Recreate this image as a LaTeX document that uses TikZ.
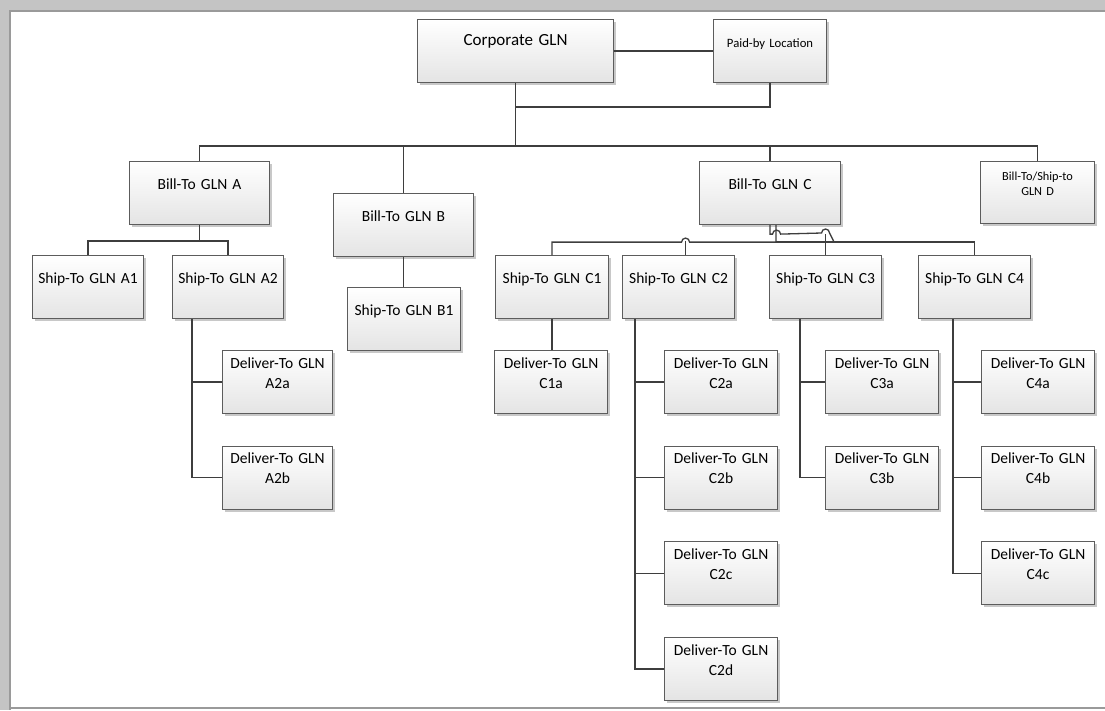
\documentclass[tikz,border=0pt]{standalone}
\usepackage{fontspec}
\setmainfont{Carlito}
\usepackage{xcolor}
\usepackage{tikz}
\usetikzlibrary{positioning, shadows}
\definecolor{boxline}{HTML}{5C5C5C}
\definecolor{boxfill}{HTML}{E4E4E4}
\definecolor{wire}{HTML}{3E3E3E}
\definecolor{frameband}{HTML}{C4C4C4}
\definecolor{frameedge}{HTML}{9A9A9A}
\tikzstyle{glnbox} = [rectangle, anchor=north west, draw=boxline, line width=1.1pt, top color=white, bottom color=boxfill, drop shadow={shadow xshift=2.5pt, shadow yshift=-2.5pt, opacity=0.3, fill=black!70}, inner sep=0pt, align=center, text width=112pt, font=\fontsize{15.5}{20}\selectfont]
\tikzstyle{single} = [glnbox, text height=27.5pt, text depth=35.5pt]
\tikzstyle{deliver} = [glnbox, text height=17.7pt, text depth=45.3pt]
\tikzstyle{conn} = [draw=wire, line width=1.3pt]

\begin{document}
\begin{tikzpicture}[x=1pt, y=-1pt, node distance=31.5pt]
    \useasboundingbox (0,0) rectangle (1105,710);
    % frame of the screenshot
    \fill [frameband] (0,0) rectangle (1105,11);
    \fill [frameband] (0,0) rectangle (10,710);
    \fill [white] (10,11) rectangle (1105,707);
    \draw [frameedge, line width=1.2pt] (1105,11) -- (10,11) -- (10,710);
    \draw [frameedge, line width=1.5pt] (10,708) -- (1105,708);

    % top level
    \node (corp) [single, text width=196pt, text height=26pt, text depth=37pt, font=\fontsize{17}{20}\selectfont] at (417,19) {Corporate GLN};
    \node (paid) [single, text width=113pt, text height=28pt, text depth=35pt, font=\fontsize{12.7}{15}\selectfont] at (713,19) {Paid-by Location};

    % bill-to level
    \node (billA) [single, text width=140pt] at (129,161) {Bill-To GLN A};
    \node (billB) [single, text width=140pt] at (333,193) {Bill-To GLN B};
    \node (billC) [single, text width=141pt] at (699,161) {Bill-To GLN C};
    \node (billD) [glnbox, text width=114pt, text height=19pt, text depth=43pt, font=\fontsize{12.3}{15}\selectfont] at (980,161) {Bill-To/Ship-to\\GLN D};

    % ship-to level
    \node (shipA1) [single, text width=111pt] at (32,255) {Ship-To GLN A1};
    \node (shipA2) [single, text width=111pt] at (172,255) {Ship-To GLN A2};
    \node (shipB1) [single, text width=113pt] at (347,287) {Ship-To GLN B1};
    \node (shipC1) [single, text width=113pt] at (495,255) {Ship-To GLN C1};
    \node (shipC2) [single] at (622,255) {Ship-To GLN C2};
    \node (shipC3) [single] at (769,255) {Ship-To GLN C3};
    \node (shipC4) [single] at (918,255) {Ship-To GLN C4};

    % deliver-to level
    \node (delA2a) [deliver, text width=110pt] at (222,350) {Deliver-To GLN\\A2a};
    \node (delA2b) [deliver, text width=110pt, below=of delA2a] {Deliver-To GLN\\A2b};
    \node (delC1a) [deliver, text width=113pt] at (494,350) {Deliver-To GLN\\C1a};
    \node (delC2a) [deliver, text width=113pt] at (664,350) {Deliver-To GLN\\C2a};
    \node (delC2b) [deliver, text width=113pt, below=of delC2a] {Deliver-To GLN\\C2b};
    \node (delC2c) [deliver, text width=113pt, below=of delC2b] {Deliver-To GLN\\C2c};
    \node (delC2d) [deliver, text width=113pt, below=of delC2c] {Deliver-To GLN\\C2d};
    \node (delC3a) [deliver, text width=113pt] at (825,350) {Deliver-To GLN\\C3a};
    \node (delC3b) [deliver, text width=113pt, below=of delC3a] {Deliver-To GLN\\C3b};
    \node (delC4a) [deliver, text width=113pt] at (981,350) {Deliver-To GLN\\C4a};
    \node (delC4b) [deliver, text width=113pt, below=of delC4a] {Deliver-To GLN\\C4b};
    \node (delC4c) [deliver, text width=113pt, below=of delC4b] {Deliver-To GLN\\C4c};

    % corporate connectors
    \coordinate (join) at ([yshift=-24pt]corp.south);
    \coordinate (bus) at ([yshift=-63pt]corp.south);
    \draw [conn] (corp.east) -- (paid.west);
    \draw [conn] (paid.south) |- (join);
    \draw [conn] (corp.south) -- (bus);
    \draw [conn] (bus) -| (billA.north);
    \draw [conn] (bus) -| (billB.north);
    \draw [conn] (bus) -| (billC.north);
    \draw [conn] (bus) -| (billD.north);

    % A and B
    \draw [conn] (billA.south) -- ++(0,16) -| (shipA1.north);
    \draw [conn] (billA.south) -- ++(0,16) -| (shipA2.north);
    \draw [conn] (billB.south) -- (billB.south |- shipB1.north);
    \coordinate (trunkA2) at ([xshift=20pt]shipA2.south west);
    \draw [conn] (trunkA2) |- (delA2a.west);
    \draw [conn] (trunkA2) |- (delA2b.west);

    % C with line hops
    \coordinate (cbus) at ([xshift=6pt, yshift=-17pt]billC.south);
    \draw [conn] ([xshift=6pt]billC.south) -- (cbus) -- ([xshift=11pt]shipC2.north |- cbus)
        arc[start angle=0, end angle=180, radius=4pt] -- (shipC1.north |- cbus) -- (shipC1.north);
    \draw [conn] ([xshift=7pt]shipC2.north) -- ++(0,-14);
    \draw [conn] (cbus) -- (shipC4.north |- cbus) -- (shipC4.north);
    \draw [conn] (billC.south) -- ++(0,9) -- ++(2.5,0) arc[start angle=180, end angle=0, radius=4pt]
        -- ([xshift=-4pt, yshift=22pt]shipC3.north) arc[start angle=180, end angle=0, radius=4pt] -- ++(4,8);
    \draw [conn] (shipC3.north) -- ++(0,-21);

    \draw [conn] (shipC1.south) -- (shipC1.south |- delC1a.north);
    \coordinate (trunkC2) at ([xshift=13pt]shipC2.south west);
    \foreach \d in {a,b,c,d}
        \draw [conn] (trunkC2) |- (delC2\d.west);
    \coordinate (trunkC3) at ([xshift=31pt]shipC3.south west);
    \foreach \d in {a,b}
        \draw [conn] (trunkC3) |- (delC3\d.west);
    \coordinate (trunkC4) at ([xshift=35pt]shipC4.south west);
    \foreach \d in {a,b,c}
        \draw [conn] (trunkC4) |- (delC4\d.west);
\end{tikzpicture}
\end{document}
